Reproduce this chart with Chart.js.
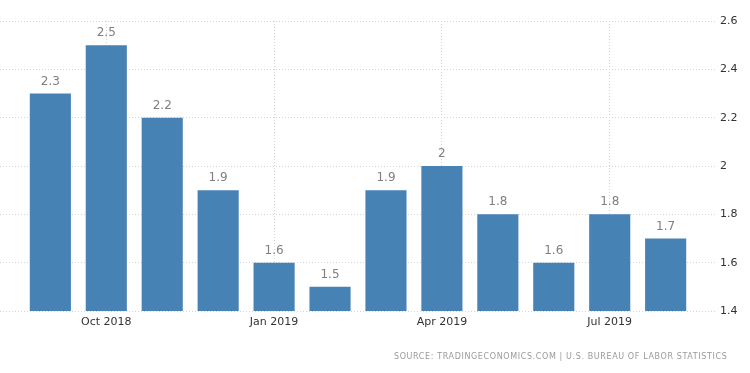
<!DOCTYPE html>
<html>
<head>
<meta charset="utf-8">
<script src="https://cdn.jsdelivr.net/npm/chart.js@4/dist/chart.umd.min.js"></script>
<style>
  html, body { margin: 0; padding: 0; background: #fff; }
  #wrap { position: relative; width: 750px; height: 373px; }
</style>
</head>
<body>
<div id="wrap"><canvas id="c" width="750" height="373"></canvas></div>
<script>
const months = ['Sep 2018','Oct 2018','Nov 2018','Dec 2018','Jan 2019','Feb 2019','Mar 2019','Apr 2019','May 2019','Jun 2019','Jul 2019','Aug 2019'];
const values = [2.3, 2.5, 2.2, 1.9, 1.6, 1.5, 1.9, 2, 1.8, 1.6, 1.8, 1.7];
const xTickLabels = ['Oct 2018', 'Jan 2019', 'Apr 2019', 'Jul 2019'];
const yTickLabels = ['1.4', '1.6', '1.8', '2', '2.2', '2.4', '2.6'];
const sourceText = 'SOURCE: TRADINGECONOMICS.COM | U.S. BUREAU OF LABOR STATISTICS';

const FONT = "'DejaVu Sans', sans-serif";

const points = values.map((v, i) => ({ x: i, y: v }));
const xTickValues = xTickLabels.map(l => months.indexOf(l));
const yTickValues = yTickLabels.map(Number);

const labelPlugin = {
  id: 'valueLabels',
  afterDatasetsDraw(chart) {
    const ctx = chart.ctx;
    const meta = chart.getDatasetMeta(0);
    ctx.save();
    ctx.font = '12px ' + FONT;
    ctx.fillStyle = '#7f7f7f';
    ctx.textAlign = 'center';
    ctx.textBaseline = 'alphabetic';
    meta.data.forEach((el, i) => {
      ctx.fillText(String(values[i]), el.x, el.y - 9);
    });
    ctx.restore();
  },
  afterDraw(chart) {
    const ctx = chart.ctx;
    ctx.save();
    ctx.font = '8px ' + FONT;
    ctx.fillStyle = '#9a9a9a';
    ctx.textBaseline = 'middle';
    ctx.letterSpacing = '0px';
    const w = ctx.measureText(sourceText).width;
    const target = 333;
    const sp = Math.max(0, (target - w) / (sourceText.length - 1));
    ctx.letterSpacing = sp.toFixed(2) + 'px';
    ctx.textAlign = 'left';
    ctx.fillText(sourceText, 394, 357);
    ctx.restore();
  }
};

new Chart(document.getElementById('c'), {
  type: 'bar',
  data: {
    datasets: [{
      data: points,
      backgroundColor: '#4682b4',
      borderWidth: 0,
      barPercentage: 0.735,
      categoryPercentage: 1
    }]
  },
  options: {
    responsive: false,
    animation: false,
    devicePixelRatio: 1,
    layout: { padding: { left: 0, right: 0, top: 21, bottom: 38 } },
    plugins: { legend: { display: false }, tooltip: { enabled: false } },
    scales: {
      x: {
        type: 'linear',
        min: -0.9,
        max: 11.9,
        bounds: 'data',
        offset: false,
        afterDataLimits(scale) { scale.min = -0.9; scale.max = 11.9; },
        afterBuildTicks(scale) { scale.ticks = xTickValues.map(v => ({ value: v })); scale.min = -0.9; scale.max = 11.9; },
        afterFit(scale) { scale.height = 24; },
        ticks: {
          autoSkip: false,
          maxRotation: 0,
          padding: 5,
          color: '#333',
          font: { family: FONT, size: 11 },
          callback: (v) => months[v]
        },
        grid: {
          offset: false,
          color: '#d4d4d4',
          lineWidth: 1,
          drawTicks: false
        },
        border: { display: false, dash: [1, 2] }
      },
      y: {
        position: 'right',
        min: 1.4,
        max: 2.6,
        afterBuildTicks(scale) { scale.ticks = yTickValues.map(v => ({ value: v })); },
        afterFit(scale) { scale.width = 34; },
        ticks: {
          padding: 4,
          color: '#333',
          font: { family: FONT, size: 11 },
          callback: (v) => yTickLabels[yTickValues.indexOf(v)]
        },
        grid: {
          color: '#d4d4d4',
          lineWidth: 1,
          drawTicks: false
        },
        border: { display: false, dash: [1, 2] }
      }
    }
  },
  plugins: [labelPlugin]
});
</script>
</body>
</html>
